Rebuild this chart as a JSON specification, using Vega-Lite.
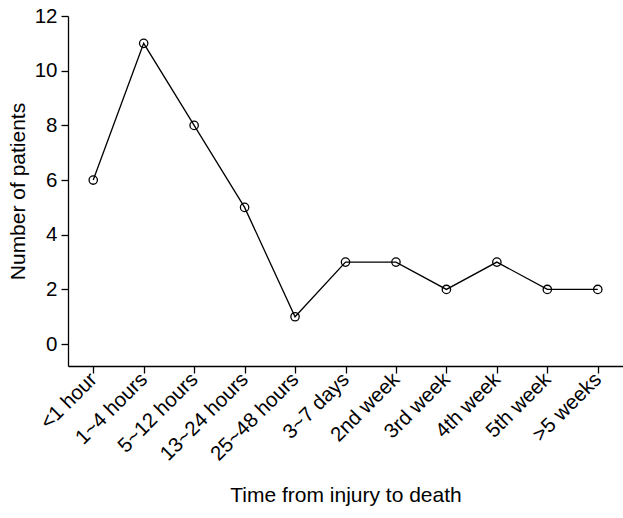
{
  "$schema": "https://vega.github.io/schema/vega-lite/v6.json",
  "autosize": {"type": "none"},
  "padding": {"left": 68, "top": 16, "right": 0, "bottom": 152},
  "width": 555,
  "height": 350,
  "background": "white",
  "config": {
    "view": {"stroke": null},
    "font": "Liberation Sans",
    "axis": {
      "grid": false,
      "domainColor": "#000000",
      "domainWidth": 1.3,
      "tickColor": "#000000",
      "tickWidth": 1.3,
      "tickSize": 7,
      "labelColor": "#000000",
      "labelFontSize": 20.5,
      "labelFont": "Liberation Sans",
      "titleFont": "Liberation Sans",
      "titleFontSize": 21,
      "titleFontWeight": "normal",
      "titleColor": "#000000"
    }
  },
  "data": {
    "values": [
      {"time": "<1 hour", "patients": 6},
      {"time": "1~4 hours", "patients": 11},
      {"time": "5~12 hours", "patients": 8},
      {"time": "13~24 hours", "patients": 5},
      {"time": "25~48 hours", "patients": 1},
      {"time": "3~7 days", "patients": 3},
      {"time": "2nd week", "patients": 3},
      {"time": "3rd week", "patients": 2},
      {"time": "4th week", "patients": 3},
      {"time": "5th week", "patients": 2},
      {"time": ">5 weeks", "patients": 2}
    ]
  },
  "encoding": {
    "x": {
      "field": "time",
      "type": "ordinal",
      "sort": null,
      "scale": {"type": "point", "padding": 0.5},
      "axis": {
        "title": "Time from injury to death",
        "labelAngle": -45,
        "labelAlign": "right",
        "labelBaseline": "middle",
        "labelPadding": 3,
        "titlePadding": 20
      }
    },
    "y": {
      "field": "patients",
      "type": "quantitative",
      "scale": {"domain": [-0.8, 12], "nice": false, "zero": false},
      "axis": {
        "title": "Number of patients",
        "values": [0, 2, 4, 6, 8, 10, 12],
        "labelPadding": 4,
        "titlePadding": 6
      }
    }
  },
  "layer": [
    {"mark": {"type": "line", "color": "#000000", "strokeWidth": 1.3}},
    {"mark": {"type": "point", "shape": "circle", "filled": false, "color": "#000000", "strokeWidth": 1.3, "size": 70, "opacity": 1}}
  ]
}
